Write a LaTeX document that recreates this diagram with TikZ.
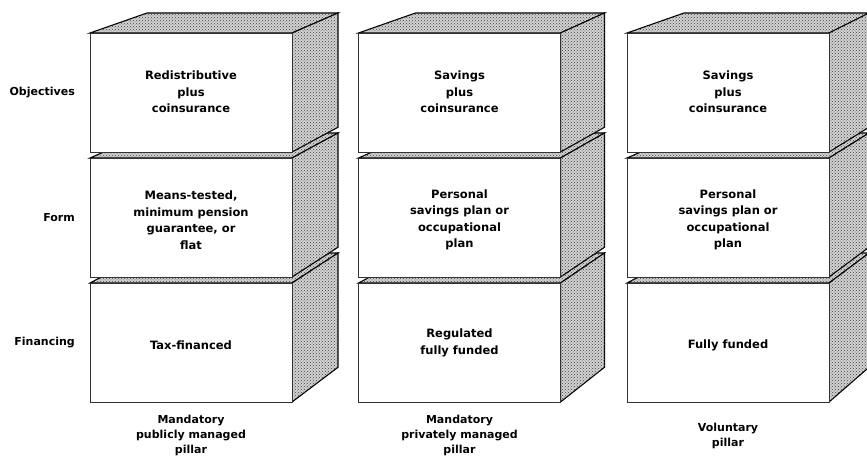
\documentclass[tikz,border=0pt]{standalone}
\usepackage{fontspec}
\setmainfont{DejaVu Sans}
\usetikzlibrary{patterns}

\tikzset{
	face/.style={draw=black, line width=1.1pt, fill=gray!35,
		postaction={pattern=crosshatch dots, pattern color=black!75}},
	front/.style={draw=black!80, line width=0.8pt, fill=white},
	boxtext/.style={align=center, font=\bfseries\fontsize{11.5}{16.5}\selectfont},
	rowlabel/.style={anchor=east, inner sep=0pt, font=\bfseries\fontsize{11}{15}\selectfont},
	pillarlabel/.style={align=center, font=\bfseries\fontsize{11}{15}\selectfont},
}

% one block: left x, top y, depth of the right face
\newcommand{\pillarblock}[3]{%
	\pgfmathsetmacro{\ya}{#2}
	\pgfmathsetmacro{\yb}{#2+119}
	\pgfmathsetmacro{\da}{20+0.04*(#2-33)}
	\pgfmathsetmacro{\db}{20+0.04*(#2+119-33)}
	\pgfmathsetmacro{\xb}{#1+202}
	\draw[face] (#1,\ya) -- ++(57,-\da) -- (\xb+#3,\ya-\da) -- (\xb,\ya) -- cycle;
	\draw[face] (\xb,\ya) -- (\xb+#3,\ya-\da) -- (\xb+#3,\yb-\db) -- (\xb,\yb) -- cycle;
	\draw[front] (#1,\ya) rectangle (\xb,\yb);
}

\begin{document}
\begin{tikzpicture}[x=1pt, y=-1pt]
	\useasboundingbox (0,0) rectangle (867,457);

	% the three pillars, lowest block first
	\foreach \px/\pd in {90/46, 358.5/44, 627/40}{
		\foreach \py in {283, 158, 33}{
			\pillarblock{\px}{\py}{\pd}
		}
	}

	\node[rowlabel] (objectives) at (75,92.5) {Objectives};
	\node[rowlabel] (form) at (75,217.5) {Form};
	\node[rowlabel] (financing) at (75,342.5) {Financing};

	\node[boxtext] (obj1) at (191,92) {Redistributive\\plus\\coinsurance};
	\node[boxtext] (form1) at (191,220) {Means-tested,\\minimum pension\\guarantee, or\\flat};
	\node[boxtext] (fin1) at (191,345) {Tax-financed};

	\node[boxtext] (obj2) at (459.5,92) {Savings\\plus\\coinsurance};
	\node[boxtext] (form2) at (459.5,220) {Personal\\savings plan or\\occupational\\plan};
	\node[boxtext] (fin2) at (459.5,343) {Regulated\\fully funded};

	\node[boxtext] (obj3) at (728,92) {Savings\\plus\\coinsurance};
	\node[boxtext] (form3) at (728,220) {Personal\\savings plan or\\occupational\\plan};
	\node[boxtext] (fin3) at (728,345) {Fully funded};

	\node[pillarlabel] (pillar1) at (191,435) {Mandatory\\publicly managed\\pillar};
	\node[pillarlabel] (pillar2) at (459.5,435) {Mandatory\\privately managed\\pillar};
	\node[pillarlabel] (pillar3) at (728,435.5) {Voluntary\\pillar};
\end{tikzpicture}
\end{document}
